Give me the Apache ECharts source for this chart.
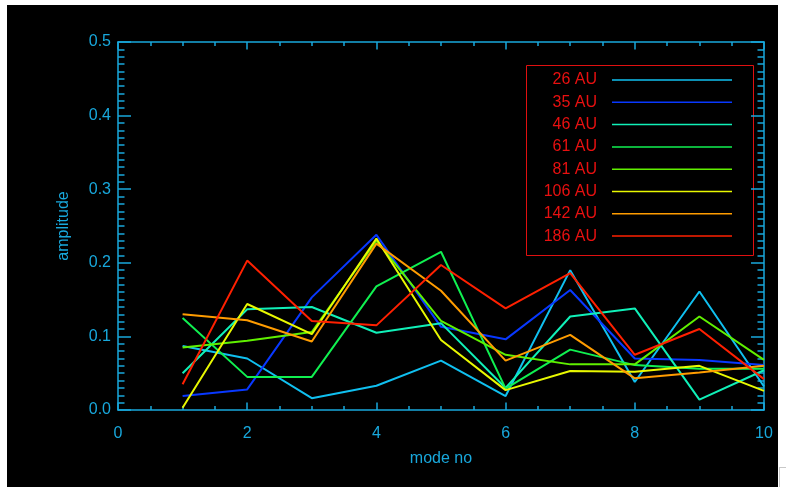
<!DOCTYPE html>
<html>
<head>
<meta charset="utf-8">
<script src="https://cdn.jsdelivr.net/npm/echarts@6/dist/echarts.min.js"></script>
<style>
  html, body { margin: 0; padding: 0; background: #ffffff; }
  #corner { position: absolute; left: 779px; top: 467px; width: 10px; height: 25px; border-left: 1px solid #c8c8c8; border-top: 1px solid #c8c8c8; }
  #chart { position: absolute; left: 7px; top: 5px; width: 771px; height: 482px; background: #000000; }
</style>
</head>
<body>
<div id="corner"></div>
<div id="chart"></div>
<script>
const modes = [1, 2, 3, 4, 5, 6, 7, 8, 9, 10];
const seriesNames = ['26 AU', '35 AU', '46 AU', '61 AU', '81 AU', '106 AU', '142 AU', '186 AU'];
const seriesColors = ['#10c0f0', '#0838ff', '#10f0b8', '#10f050', '#60f000', '#e8f800', '#ff9c00', '#ff2000'];

const au26  = [0.087, 0.070, 0.016, 0.033, 0.067, 0.019, 0.190, 0.038, 0.161, 0.032];
const au35  = [0.019, 0.028, 0.153, 0.238, 0.113, 0.096, 0.163, 0.070, 0.068, 0.061];
const au46  = [0.050, 0.137, 0.140, 0.105, 0.118, 0.030, 0.127, 0.138, 0.014, 0.054];
const au61  = [0.125, 0.045, 0.045, 0.168, 0.215, 0.029, 0.082, 0.061, 0.056, 0.056];
const au81  = [0.085, 0.094, 0.106, 0.230, 0.121, 0.075, 0.062, 0.062, 0.127, 0.068];
const au106 = [0.003, 0.144, 0.103, 0.233, 0.095, 0.027, 0.053, 0.052, 0.060, 0.026];
const au142 = [0.130, 0.122, 0.093, 0.226, 0.162, 0.067, 0.102, 0.043, 0.051, 0.060];
const au186 = [0.035, 0.203, 0.121, 0.115, 0.197, 0.138, 0.186, 0.075, 0.110, 0.042];
const allValues = [au26, au35, au46, au61, au81, au106, au142, au186];

const axisColor = '#18a8dc';
const legendRed = '#e81010';

const chart = echarts.init(document.getElementById('chart'));

function ax(pos, isX, showLabel) {
  return {
    type: 'value', position: pos,
    min: 0, max: isX ? 10 : 0.5, interval: isX ? 2 : 0.1,
    name: showLabel ? (isX ? 'mode no' : 'amplitude') : '',
    nameLocation: 'middle', nameGap: isX ? 41 : 46,
    nameTextStyle: { color: axisColor, fontSize: 16 },
    axisLine: { show: true, onZero: false, lineStyle: { color: axisColor, width: 1.5 } },
    axisTick: { show: true, inside: true, length: isX ? 7.5 : 13, lineStyle: { color: axisColor, width: 1.5 } },
    minorTick: { show: true, splitNumber: isX ? 4 : 10, length: isX ? 4 : 6.5, lineStyle: { color: axisColor, width: 1.5 } },
    axisLabel: { show: showLabel, color: axisColor, fontSize: 16, margin: isX ? 16 : 7,
                 formatter: isX ? (v => String(v)) : (v => v.toFixed(1)) },
    splitLine: { show: false }, minorSplitLine: { show: false }
  };
}

const series = seriesNames.map((name, i) => ({
  name: name,
  type: 'line',
  data: modes.map((m, j) => [m, allValues[i][j]]),
  symbol: 'none',
  lineStyle: { color: seriesColors[i], width: 2 },
  itemStyle: { color: seriesColors[i] }
}));

// Legend box drawn as graphic elements built from the name/colour arrays
const legendGraphics = [{
  type: 'rect', left: 517, top: 58,
  shape: { x: 0, y: 0, width: 227, height: 190 },
  style: { fill: 'none', stroke: '#e01010', lineWidth: 1 }
}];
seriesNames.forEach((name, i) => {
  const cy = 75 + 22.3 * i;
  legendGraphics.push({
    type: 'text', x: 590, y: cy,
    style: { text: name, fill: legendRed, fontSize: 16, align: 'right', verticalAlign: 'middle' }
  });
  legendGraphics.push({
    type: 'line',
    shape: { x1: 605, y1: cy, x2: 725, y2: cy },
    style: { stroke: seriesColors[i], lineWidth: 1.5 }
  });
});

chart.setOption({
  animation: false,
  grid: { left: 111, right: 14, top: 37, bottom: 77 },
  xAxis: [ax('bottom', true, true), ax('top', true, false)],
  yAxis: [ax('left', false, true), ax('right', false, false)],
  graphic: legendGraphics,
  series: series
});
</script>
</body>
</html>
